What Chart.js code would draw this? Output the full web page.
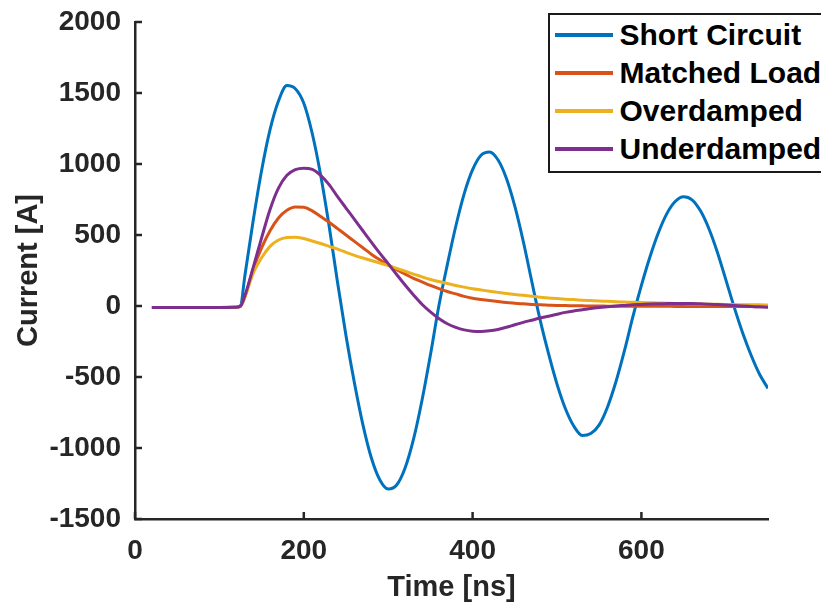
<!DOCTYPE html>
<html>
<head>
<meta charset="utf-8">
<script src="https://cdn.jsdelivr.net/npm/chart.js@4.4.0/dist/chart.umd.min.js"></script>
<style>
  html, body { margin: 0; padding: 0; background: #fff; overflow: hidden; }
  #wrap { position: relative; width: 821px; height: 606px; }
  #legend {
    position: absolute; left: 548px; top: 13px; width: 300px;
    border: 2.5px solid #1a1a1a; padding: 1px 0 3px 0; background: #fff;
    font: bold 30px "Liberation Sans", Arial, sans-serif; color: #000;
  }
  .row { height: 38px; display: flex; align-items: center; white-space: nowrap; }
  .swatch { width: 58px; height: 3.5px; margin: 0 7px 0 4.5px; flex: none; }
</style>
</head>
<body>
<div id="wrap">
  <canvas id="mainChart" width="821" height="606"></canvas>
  <div id="legend"></div>
</div>
<script>
// Time axis [ns]
const time = [20, 40, 60, 80, 100, 120, 125,
  130, 140, 150, 160, 170, 180, 190, 200, 210, 220, 230, 240,
  250, 260, 270, 280, 290, 300, 310, 320, 330, 340, 350, 360,
  370, 380, 390, 400, 410, 420, 430, 440, 450, 460, 470, 480,
  490, 500, 510, 520, 530, 540, 550, 560, 570, 580, 590, 600,
  610, 620, 630, 640, 650, 660, 670, 680, 690, 700, 710, 720,
  730, 740, 750];

// Current [A]
const shortCircuit = [-10, -10, -10, -10, -10, -8, 0,
  205, 600, 954, 1242, 1444, 1552, 1530, 1428, 1215, 921, 563, 165,
  -209, -542, -835, -1069, -1224, -1289, -1261, -1141, -938, -665, -345, 0,
  290, 560, 790, 960, 1062, 1085, 1030, 900, 703, 456, 176, -98,
  -336, -550, -724, -847, -912, -898, -837, -709, -530, -313, -73, 145,
  343, 514, 649, 736, 770, 748, 670, 544, 379, 186, -10, -190,
  -347, -481, -580];

const matchedLoad = [-10, -10, -10, -10, -10, -8, 0,
  60, 260, 410, 530, 620, 675, 698, 695, 670, 630, 590, 545,
  500, 455, 410, 365, 325, 290, 255, 225, 195, 170, 145, 122,
  102, 85, 68, 55, 46, 38, 31, 25, 19, 15, 11, 8,
  6, 4, 3, 2, 1, 0, 0, -1, -1, -2, -2, -2,
  -2, -2, -2, -3, -3, -3, -3, -3, -3, -3, -3, -4,
  -4, -5, -5];

const overdamped = [-10, -10, -10, -10, -10, -8, 0,
  60, 230, 340, 420, 465, 483, 485, 475, 458, 440, 420, 400,
  378, 357, 338, 320, 303, 285, 265, 245, 225, 205, 187, 172,
  158, 145, 133, 122, 113, 104, 96, 88, 81, 75, 68, 62,
  57, 52, 48, 45, 41, 38, 35, 33, 30, 28, 26, 25,
  23, 21, 20, 18, 17, 15, 14, 13, 12, 11, 10, 9,
  8, 8, 7];

const underdamped = [-10, -10, -10, -10, -10, -8, 0,
  70, 270, 480, 680, 830, 920, 960, 970, 962, 920, 855, 770,
  690, 610, 530, 450, 372, 298, 222, 148, 78, 12, -42, -88,
  -125, -150, -168, -178, -180, -175, -165, -150, -132, -115, -100, -85,
  -72, -58, -45, -35, -27, -18, -11, -5, 0, 4, 8, 11,
  14, 16, 17, 18, 18, 17, 15, 13, 10, 7, 4, 0,
  -3, -6, -9];

const seriesNames = ["Short Circuit", "Matched Load", "Overdamped", "Underdamped"];
const seriesColors = ["#0072BD", "#D95319", "#EDB120", "#7E2F8E"];
const seriesValues = [shortCircuit, matchedLoad, overdamped, underdamped];

const xTicks = [0, 200, 400, 600];
const yTicks = [-1500, -1000, -500, 0, 500, 1000, 1500, 2000];

const axisColor = "#262626";
const fontFamily = '"Liberation Sans", Arial, sans-serif';

// MATLAB style ticks pointing into the plot
const innerTicks = {
  id: "innerTicks",
  afterDraw(chart) {
    const { ctx, chartArea, scales } = chart;
    ctx.save();
    ctx.strokeStyle = axisColor;
    ctx.lineWidth = 2.5;
    scales.x.ticks.forEach((t) => {
      const px = scales.x.getPixelForValue(t.value);
      ctx.beginPath();
      ctx.moveTo(px, chartArea.bottom);
      ctx.lineTo(px, chartArea.bottom - 7);
      ctx.stroke();
    });
    scales.y.ticks.forEach((t) => {
      const py = scales.y.getPixelForValue(t.value);
      ctx.beginPath();
      ctx.moveTo(chartArea.left, py);
      ctx.lineTo(chartArea.left + 7, py);
      ctx.stroke();
    });
    ctx.restore();
  },
};

const datasets = seriesNames.map((name, i) => ({
  label: name,
  data: time.map((t, k) => ({ x: t, y: seriesValues[i][k] })),
  borderColor: seriesColors[i],
  backgroundColor: seriesColors[i],
  borderWidth: 3,
  pointRadius: 0,
  cubicInterpolationMode: "monotone",
  order: seriesNames.length - i, // later series on top, like MATLAB
}));

const ctx = document.getElementById("mainChart").getContext("2d");
const chart = new Chart(ctx, {
  type: "line",
  data: { datasets: datasets },
  plugins: [innerTicks],
  options: {
    responsive: false,
    animation: false,
    layout: { padding: { top: 22, right: 53, left: 0, bottom: 0 } },
    plugins: {
      legend: { display: false },
      tooltip: { enabled: false },
    },
    scales: {
      x: {
        type: "linear",
        min: 0,
        max: 750,
        afterFit: (scale) => {
          scale.height = 87;
          scale.paddingLeft = 0;
          scale.paddingRight = 0;
        },
        afterBuildTicks: (scale) => { scale.ticks = xTicks.map((v) => ({ value: v })); },
        ticks: {
          color: axisColor,
          padding: 15,
          maxRotation: 0,
          callback: (v) => String(v),
          font: { size: 28, weight: "bold", family: fontFamily },
        },
        grid: { display: false, drawTicks: false },
        border: { display: true, color: axisColor, width: 2.5 },
        title: {
          display: true,
          text: "Time [ns]",
          color: axisColor,
          padding: { top: 0, bottom: 1 },
          font: { size: 29, weight: "bold", family: fontFamily },
        },
      },
      y: {
        min: -1500,
        max: 2000,
        afterFit: (scale) => {
          scale.width = 135;
          scale.paddingTop = 0;
          scale.paddingBottom = 0;
        },
        afterBuildTicks: (scale) => { scale.ticks = yTicks.map((v) => ({ value: v })); },
        ticks: {
          color: axisColor,
          padding: 14,
          callback: (v) => String(v),
          font: { size: 28, weight: "bold", family: fontFamily },
        },
        grid: { display: false, drawTicks: false },
        border: { display: true, color: axisColor, width: 2.5 },
        title: {
          display: true,
          text: "Current [A]",
          color: axisColor,
          padding: { top: 12, bottom: 0 },
          font: { size: 29, weight: "bold", family: fontFamily },
        },
      },
    },
  },
});

// Legend box inside the axes, top right
document.getElementById("legend").innerHTML = seriesNames
  .map(
    (name, i) => `
    <div class="row"><span class="swatch" style="background:${seriesColors[i]}"></span>${name}</div>`
  )
  .join("");
</script>
</body>
</html>
